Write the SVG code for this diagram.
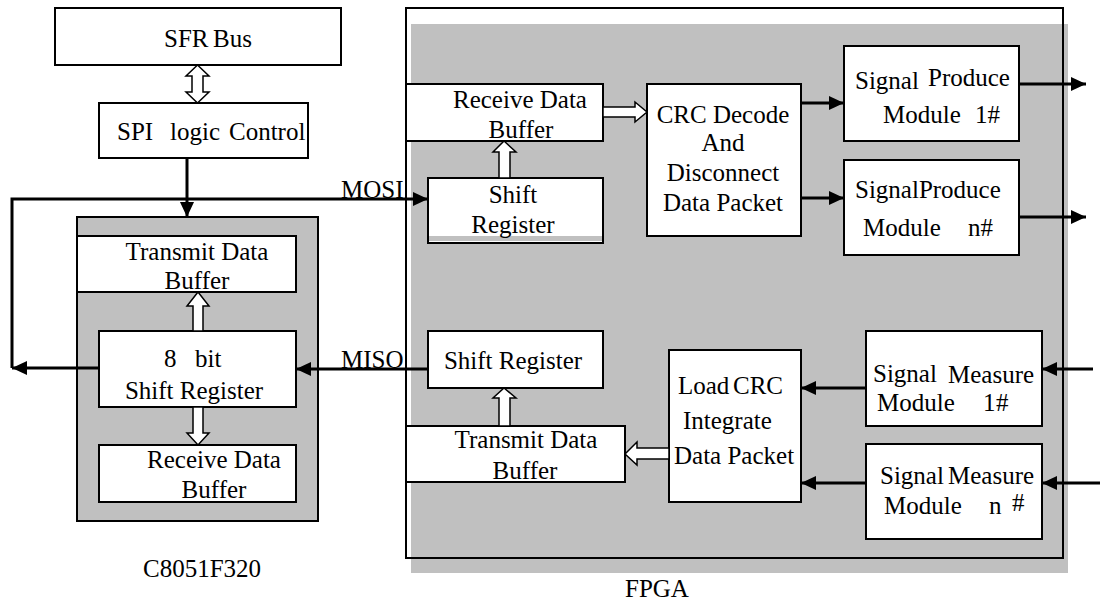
<svg xmlns="http://www.w3.org/2000/svg" width="1100" height="601" viewBox="0 0 1100 601">
  <style>
    .box { fill: #ffffff; stroke: #000000; stroke-width: 2; }
    .panel { fill: #c0c0c0; stroke: #000000; stroke-width: 2; }
    .shade { fill: #c0c0c0; stroke: none; }
    .frame { fill: none; stroke: #000000; stroke-width: 2; }
    .t { font-family: "Liberation Serif", "Times New Roman", serif; font-size: 25px; fill: #000000; }
    .c { text-anchor: middle; }
    .wire { fill: none; stroke: #000000; stroke-width: 3; marker-end: url(#head); }
    .hollow { fill: #ffffff; stroke: #000000; stroke-width: 1.5; stroke-linejoin: miter; }
  </style>
  <defs>
    <marker id="head" markerUnits="userSpaceOnUse" markerWidth="16" markerHeight="14" refX="15" refY="7" orient="auto">
      <path d="M0,0 L15,7 L0,14 Z" fill="#000000"/>
    </marker>
  </defs>

  <rect width="1100" height="601" fill="#ffffff"/>

  <!-- FPGA enclosure: shaded area offset behind an outline frame -->
  <g id="fpga">
    <rect class="shade" x="411" y="24" width="657" height="549"/>
    <rect class="frame" x="406" y="8" width="657" height="550"/>
    <text class="t" x="625" y="597">FPGA</text>
  </g>

  <!-- C8051F320 enclosure -->
  <g id="mcu">
    <rect class="panel" x="77" y="217" width="241" height="304"/>
    <text class="t c" x="202" y="577">C8051F320</text>
  </g>

  <g id="sfr-bus">
    <rect class="box" x="55" y="8" width="286" height="57"/>
    <text class="t" y="47"><tspan x="164">SFR</tspan> <tspan x="213">Bus</tspan></text>
  </g>

  <g id="spi-control">
    <rect class="box" x="99" y="103" width="209" height="55"/>
    <text class="t" y="140"><tspan x="117">SPI</tspan> <tspan x="170">logic</tspan> <tspan x="229">Control</tspan></text>
  </g>

  <g id="mcu-tx-buffer">
    <rect class="box" x="77" y="236" width="219" height="56"/>
    <text class="t c" x="197" y="260">Transmit Data</text>
    <text class="t c" x="197" y="289">Buffer</text>
  </g>

  <g id="mcu-shift-register">
    <rect class="box" x="99" y="331" width="197" height="76"/>
    <text class="t" y="367"><tspan x="164">8</tspan> <tspan x="195">bit</tspan></text>
    <text class="t c" x="194" y="399">Shift Register</text>
  </g>

  <g id="mcu-rx-buffer">
    <rect class="box" x="99" y="445" width="197" height="57"/>
    <text class="t c" x="214" y="468">Receive Data</text>
    <text class="t c" x="214" y="498">Buffer</text>
  </g>

  <g id="fpga-rx-buffer">
    <rect class="box" x="406" y="84" width="197" height="57"/>
    <text class="t" x="453" y="108">Receive Data</text>
    <text class="t c" x="521" y="138">Buffer</text>
  </g>

  <g id="fpga-rx-shift">
    <rect class="box" x="428" y="178" width="175" height="65"/>
    <rect class="shade" x="429" y="236" width="173" height="5"/>
    <text class="t c" x="513" y="203">Shift</text>
    <text class="t c" x="513" y="233">Register</text>
  </g>

  <g id="crc-decode">
    <rect class="box" x="647" y="84" width="154" height="152"/>
    <text class="t c" x="723" y="123">CRC Decode</text>
    <text class="t c" x="723" y="151">And</text>
    <text class="t c" x="723" y="181">Disconnect</text>
    <text class="t c" x="723" y="211">Data Packet</text>
  </g>

  <g id="produce-1">
    <rect class="box" x="844" y="46" width="175" height="95"/>
    <text class="t"><tspan x="855" y="89">Signal</tspan> <tspan x="928" y="86">Produce</tspan></text>
    <text class="t" y="123"><tspan x="883">Module</tspan> <tspan x="975">1#</tspan></text>
  </g>

  <g id="produce-n">
    <rect class="box" x="844" y="160" width="175" height="95"/>
    <text class="t" x="855" y="198">SignalProduce</text>
    <text class="t" y="236"><tspan x="863">Module</tspan> <tspan x="968">n#</tspan></text>
  </g>

  <g id="fpga-tx-shift">
    <rect class="box" x="428" y="331" width="175" height="57"/>
    <text class="t c" x="513" y="369">Shift Register</text>
  </g>

  <g id="fpga-tx-buffer">
    <rect class="box" x="406" y="426" width="219" height="56"/>
    <text class="t c" x="526" y="448">Transmit Data</text>
    <text class="t c" x="525" y="479">Buffer</text>
  </g>

  <g id="crc-load">
    <rect class="box" x="669" y="350" width="132" height="152"/>
    <text class="t" y="394"><tspan x="678">Load</tspan> <tspan x="733">CRC</tspan></text>
    <text class="t" x="683" y="429">Integrate</text>
    <text class="t" x="674" y="464">Data Packet</text>
  </g>

  <g id="measure-1">
    <rect class="box" x="866" y="331" width="176" height="95"/>
    <text class="t"><tspan x="873" y="382">Signal</tspan> <tspan x="948" y="383">Measure</tspan></text>
    <text class="t" y="411"><tspan x="877">Module</tspan> <tspan x="983">1</tspan><tspan x="996">#</tspan></text>
  </g>

  <g id="measure-n">
    <rect class="box" x="866" y="444" width="176" height="95"/>
    <text class="t" y="484"><tspan x="880">Signal</tspan> <tspan x="948">Measure</tspan></text>
    <text class="t" y="514"><tspan x="884">Module</tspan> <tspan x="989">n</tspan> <tspan x="1012" y="511">#</tspan></text>
  </g>

  <!-- Connectors -->
  <g id="connectors">
    <!-- wide bus arrows -->
    <path class="hollow" d="M197.5,65 L209,76 L203,76 L203,92 L209,92 L197.5,103 L186,92 L192,92 L192,76 L186,76 Z"/>
    <path class="hollow" d="M198,292 L209,306 L203,306 L203,331 L193,331 L193,306 L187,306 Z"/>
    <path class="hollow" d="M193,407 L203,407 L203,433 L209,433 L198,445 L187,433 L193,433 Z"/>
    <path class="hollow" d="M504,141 L516,152 L510,152 L510,178 L499,178 L499,152 L493,152 Z"/>
    <path class="hollow" d="M603,107 L635,107 L635,102 L647,112 L635,122 L635,117 L603,117 Z"/>
    <path class="hollow" d="M504,388 L516,398 L510,398 L510,426 L499,426 L499,398 L493,398 Z"/>
    <path class="hollow" d="M625,454 L637,442 L637,448 L669,448 L669,459 L637,459 L637,465 Z"/>

    <!-- SPI signal lines -->
    <path class="wire" d="M187,158 V217"/>
    <path class="wire" d="M12,368 V199 H428"/>
    <path class="wire" d="M99,368 H12"/>
    <path class="wire" d="M428,369 H296"/>
    <text class="t" x="341" y="198">MOSI</text>
    <text class="t" x="341" y="368">MISO</text>

    <!-- decode to produce modules and outputs -->
    <path class="wire" d="M801,103 H844"/>
    <path class="wire" d="M801,198 H844"/>
    <path class="wire" d="M1019,84 H1086"/>
    <path class="wire" d="M1019,217 H1086"/>

    <!-- measure inputs and into packet loader -->
    <path class="wire" d="M1093,369 H1042"/>
    <path class="wire" d="M1100,483 H1042"/>
    <path class="wire" d="M866,388 H801"/>
    <path class="wire" d="M866,483 H801"/>
  </g>
</svg>
